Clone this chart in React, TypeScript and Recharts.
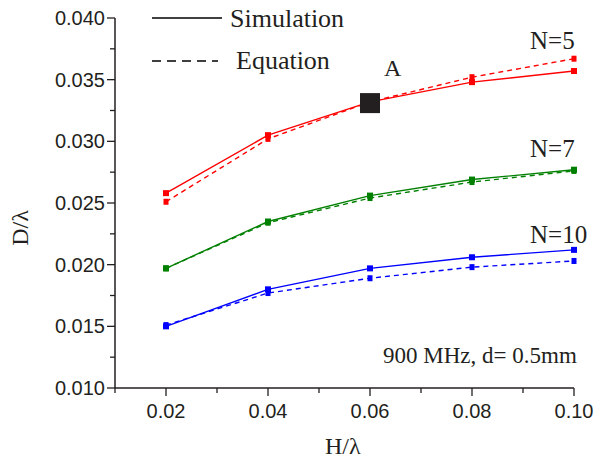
import React from "react";
import { LineChart, Line, XAxis, YAxis, ReferenceDot } from "recharts";

// H/λ sample positions
const H_VALUES = [0.02, 0.04, 0.06, 0.08, 0.1];

// D/λ
const SIM_N5 = [0.0258, 0.0305, 0.0332, 0.0348, 0.0357];
const EQ_N5 = [0.0251, 0.0302, 0.0332, 0.0352, 0.0367];
const SIM_N7 = [0.0197, 0.0235, 0.0256, 0.0269, 0.0277];
const EQ_N7 = [0.0197, 0.0234, 0.0254, 0.0267, 0.0276];
const SIM_N10 = [0.015, 0.018, 0.0197, 0.0206, 0.0212];
const EQ_N10 = [0.0151, 0.0177, 0.0189, 0.0198, 0.0203];

const X_TICKS = [0.01, 0.02, 0.03, 0.04, 0.05, 0.06, 0.07, 0.08, 0.09, 0.1];
const X_LABELS = ["0.02", "0.04", "0.06", "0.08", "0.10"];
const Y_TICKS = [0.01, 0.0125, 0.015, 0.0175, 0.02, 0.0225, 0.025, 0.0275, 0.03, 0.0325, 0.035, 0.0375, 0.04];
const Y_LABELS = ["0.010", "0.015", "0.020", "0.025", "0.030", "0.035", "0.040"];

const POINT_A = { x: 0.06, y: 0.0331 };

const data = H_VALUES.map((h, i) => ({
  h,
  simN5: SIM_N5[i],
  eqN5: EQ_N5[i],
  simN7: SIM_N7[i],
  eqN7: EQ_N7[i],
  simN10: SIM_N10[i],
  eqN10: EQ_N10[i],
}));

const INK = "#231f20";
const SERIF = "'Liberation Serif', 'Times New Roman', serif";
const SANS = "'Liberation Sans', Arial, sans-serif";

const fmtX = (v: number) => v.toFixed(2);
const fmtY = (v: number) => v.toFixed(3);

function XTick(props: any) {
  const { x, y, payload } = props;
  const label = fmtX(payload.value);
  const major = X_LABELS.includes(label);
  return (
    <g>
      <line x1={x} x2={x} y1={y} y2={y + (major ? 8 : 5)} stroke={INK} strokeWidth={1.3} />
      {major && (
        <text x={x} y={y + 30} textAnchor="middle" fontFamily={SANS} fontSize={20} fill={INK}>
          {label}
        </text>
      )}
    </g>
  );
}

function YTick(props: any) {
  const { x, y, payload } = props;
  const label = fmtY(payload.value);
  const major = Y_LABELS.includes(label);
  return (
    <g>
      <line x1={x} x2={x - (major ? 8 : 5)} y1={y} y2={y} stroke={INK} strokeWidth={1.3} />
      {major && (
        <text x={x - 10} y={y + 7} textAnchor="end" fontFamily={SANS} fontSize={20} fill={INK}>
          {label}
        </text>
      )}
    </g>
  );
}

const squareDot = (color: string, w: number, h: number) => (props: any) => {
  const { cx, cy, index } = props;
  if (cx == null || cy == null) return <g key={index} />;
  return <rect key={index} x={cx - w / 2} y={cy - h / 2} width={w} height={h} fill={color} />;
};

const SERIES = [
  { key: "simN5", color: "#ff0000", dashed: false },
  { key: "eqN5", color: "#ff0000", dashed: true },
  { key: "simN7", color: "#008000", dashed: false },
  { key: "eqN7", color: "#008000", dashed: true },
  { key: "simN10", color: "#0000ff", dashed: false },
  { key: "eqN10", color: "#0000ff", dashed: true },
];

const textStyle = (left: number, top: number, size: number): React.CSSProperties => ({
  position: "absolute",
  left,
  top,
  fontFamily: SERIF,
  fontSize: size,
  color: INK,
  whiteSpace: "nowrap",
  lineHeight: 1,
});

export default function App() {
  return (
    <div style={{ position: "absolute", left: 0, top: 0, width: 606, height: 462, background: "#fff" }}>
      <LineChart
        width={606}
        height={462}
        data={data}
        margin={{ top: 18, right: 32, bottom: 0, left: 55 }}
      >
        <XAxis
          dataKey="h"
          type="number"
          domain={[0.01, 0.1]}
          ticks={X_TICKS}
          interval={0}
          tickSize={0}
          tickMargin={0}
          tick={<XTick />}
          axisLine={{ stroke: INK, strokeWidth: 1.5 }}
          tickLine={false}
          height={74}
        />
        <YAxis
          type="number"
          domain={[0.01, 0.04]}
          ticks={Y_TICKS}
          interval={0}
          tickSize={0}
          tickMargin={0}
          tick={<YTick />}
          axisLine={{ stroke: INK, strokeWidth: 1.5 }}
          tickLine={false}
          width={60}
          allowDataOverflow
        />
        {SERIES.map((s) => (
          <Line
            key={s.key}
            dataKey={s.key}
            type="linear"
            stroke={s.color}
            strokeWidth={1.4}
            strokeDasharray={s.dashed ? "5 4" : undefined}
            dot={squareDot(s.color, s.dashed ? 5 : 6, 6)}
            activeDot={false}
            isAnimationActive={false}
          />
        ))}
        <ReferenceDot
          x={POINT_A.x}
          y={POINT_A.y}
          r={10}
          shape={(p: any) => <rect x={p.cx - 10} y={p.cy - 10} width={20} height={20} fill={INK} />}
        />
      </LineChart>

      {/* legend */}
      <svg style={{ position: "absolute", left: 0, top: 0 }} width={606} height={80}>
        <line x1={152} x2={222} y1={18} y2={18} stroke="#000" strokeWidth={1.6} />
        <line x1={152} x2={218} y1={61} y2={61} stroke="#000" strokeWidth={1.6} strokeDasharray="9 6" />
      </svg>
      <div style={textStyle(230, 6, 26)}>Simulation</div>
      <div style={textStyle(236, 48, 26)}>Equation</div>

      {/* annotations */}
      <div style={textStyle(384, 56, 24)}>A</div>
      <div style={textStyle(530, 28, 25)}>N=5</div>
      <div style={textStyle(530, 136, 25)}>N=7</div>
      <div style={textStyle(530, 222, 25)}>N=10</div>
      <div style={textStyle(383, 344, 23)}>900 MHz, d= 0.5mm</div>

      {/* axis titles */}
      <div style={textStyle(325, 434, 24)}>H/λ</div>
      <div
        style={{
          ...textStyle(2, 216, 24),
          transform: "rotate(-90deg)",
          transformOrigin: "center",
        }}
      >
        D/λ
      </div>
    </div>
  );
}
